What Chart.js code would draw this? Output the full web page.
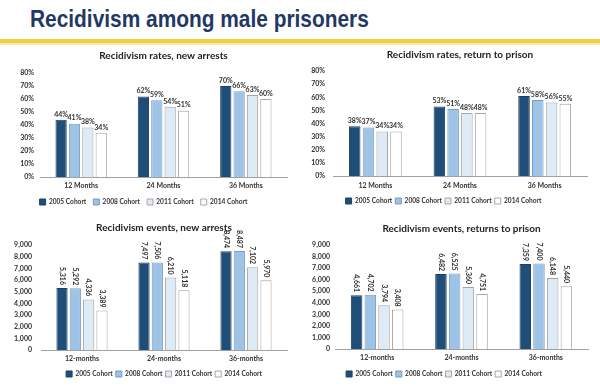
<!DOCTYPE html>
<html><head><meta charset="utf-8">
<script src="https://cdn.jsdelivr.net/npm/chart.js@4.4.1/dist/chart.umd.min.js"></script>
<style>
html,body{margin:0;padding:0;background:#fff}
body{width:600px;height:389px;position:relative;overflow:hidden}
#title{position:absolute;left:30px;top:5px;font:bold 24px "Liberation Sans",Arial,sans-serif;color:#1F3864;white-space:nowrap;transform:scaleX(0.87);transform-origin:0 0}
#rule{position:absolute;left:0;top:39px;width:600px;height:4px;background:#F4CE3A}
#rule2{position:absolute;left:0;top:43px;width:600px;height:2px;background:#FBEBB0}
.c{position:absolute}
</style></head><body>
<div id="title">Recidivism among male prisoners</div>
<div id="rule"></div><div id="rule2"></div>
<div class="c" id="w1"><canvas id="c1"></canvas></div>
<div class="c" id="w2"><canvas id="c2"></canvas></div>
<div class="c" id="w3"><canvas id="c3"></canvas></div>
<div class="c" id="w4"><canvas id="c4"></canvas></div>
<script>
// ---- data ----
const cohorts = ['2005 Cohort', '2008 Cohort', '2011 Cohort', '2014 Cohort'];
const monthLabels = ['12 Months', '24 Months', '36 Months'];
const monthLabelsLower = ['12-months', '24-months', '36-months'];

const ratesArrest2005 = [44, 62, 70];
const ratesArrest2008 = [41, 59, 66];
const ratesArrest2011 = [38, 54, 63];
const ratesArrest2014 = [34, 51, 60];

const ratesPrison2005 = [38, 53, 61];
const ratesPrison2008 = [37, 51, 58];
const ratesPrison2011 = [34, 48, 56];
const ratesPrison2014 = [34, 48, 55];

const eventsArrest2005 = [5316, 7497, 8474];
const eventsArrest2008 = [5292, 7506, 8487];
const eventsArrest2011 = [4336, 6210, 7102];
const eventsArrest2014 = [3389, 5118, 5970];

const eventsPrison2005 = [4661, 6482, 7359];
const eventsPrison2008 = [4702, 6525, 7400];
const eventsPrison2011 = [3794, 5360, 6148];
const eventsPrison2014 = [3408, 4751, 5440];

const rateAxisMax = 80, rateAxisStep = 10;
const eventAxisMax = 9000, eventAxisStep = 1000;

// ---- styles ----
const FONT = 'Lato, "Open Sans", sans-serif';
const SMALL = 7;
const LEG = 6.6;
const fills = ['#1F4E79', '#9DC3E6', '#DEEBF7', '#FFFFFF'];
const borders = ['#1B3F63', '#7A9CC0', '#A6A6A6', '#A6A6A6'];

const valueLabelPlugin = {
  id: 'valueLabels',
  afterDatasetsDraw(chart, args, opts) {
    const ctx = chart.ctx;
    ctx.save();
    ctx.fillStyle = '#333';
    ctx.font = 'bold ' + SMALL + 'px ' + FONT;
    chart.data.datasets.forEach((ds, di) => {
      const meta = chart.getDatasetMeta(di);
      meta.data.forEach((bar, i) => {
        const txt = opts.format(ds.data[i]);
        if (opts.rotate) {
          ctx.save();
          ctx.translate(bar.x, bar.y - 3);
          ctx.rotate(Math.PI / 2);
          ctx.textAlign = 'right';
          ctx.textBaseline = 'middle';
          ctx.fillText(txt, 0, 0);
          ctx.restore();
        } else {
          ctx.textAlign = 'center';
          ctx.textBaseline = 'bottom';
          ctx.fillText(txt, bar.x, bar.y - 2);
        }
      });
    });
    ctx.restore();
  }
};

function makeChart(id, wrapId, cfg) {
  const wrap = document.getElementById(wrapId);
  const half = LEG / 2;
  const top = cfg.titleY - 10;
  const legendTop = cfg.legendY - cfg.legendPad - half;
  const bottom = cfg.legendY + half + 10;
  wrap.style.left = cfg.left + 'px';
  wrap.style.top = top + 'px';
  wrap.style.width = '300px';
  wrap.style.height = (bottom - top) + 'px';
  const datasets = cfg.series.map((d, k) => ({
    label: cohorts[k], data: d,
    backgroundColor: fills[k], borderColor: borders[k], borderWidth: 1,
    categoryPercentage: 0.65, barPercentage: 0.84
  }));
  return new Chart(document.getElementById(id), {
    type: 'bar',
    data: { labels: cfg.labels, datasets },
    plugins: [valueLabelPlugin],
    options: {
      responsive: true, maintainAspectRatio: false, animation: false,
      layout: { padding: { left: 0, right: 300 - (cfg.plotRight - cfg.left), top: 0, bottom: 0 } },
      plugins: {
        title: {
          display: true, text: cfg.title, fullSize: false, color: '#222',
          font: { family: FONT, size: 10, weight: 'bold', lineHeight: 1.2 },
          padding: { top: 4, bottom: cfg.plotTop - (cfg.titleY + 6) }
        },
        legend: {
          position: 'bottom', fullSize: cfg.legendFull,
          labels: {
            boxWidth: 6, boxHeight: 6, padding: cfg.legendPad, color: '#333',
            font: { family: FONT, size: LEG, weight: 'bold' }
          }
        },
        tooltip: { enabled: false },
        valueLabels: { rotate: cfg.rotate, format: cfg.format }
      },
      scales: {
        x: {
          grid: { display: false, drawTicks: false },
          border: { display: true, color: '#A0A0A0', width: 1 },
          ticks: { color: '#333', padding: cfg.catY - 4.2 - cfg.plotBottom,
                   font: { family: FONT, size: SMALL, weight: 'bold' } },
          afterFit: s => { s.height = legendTop - cfg.plotBottom; }
        },
        y: {
          min: 0, max: cfg.max,
          grid: { display: false, drawTicks: false },
          border: { display: false },
          ticks: { stepSize: cfg.step, autoSkip: false, color: '#333', padding: cfg.yPad,
                   font: { family: FONT, size: SMALL, weight: 'bold' },
                   callback: cfg.tick },
          afterFit: s => { s.width = cfg.plotLeft - cfg.left; }
        }
      }
    }
  });
}

const pct = v => v + '%';
const num = v => v.toLocaleString('en-US');

makeChart('c1', 'w1', {
  left: 0, title: 'Recidivism rates, new arrests', labels: monthLabels,
  series: [ratesArrest2005, ratesArrest2008, ratesArrest2011, ratesArrest2014],
  max: rateAxisMax, step: rateAxisStep, tick: pct, format: pct, rotate: false,
  titleY: 56, plotTop: 73, plotBottom: 177, plotLeft: 40, plotRight: 287,
  catY: 186, legendY: 202, legendPad: 7, legendFull: true, yPad: 6
});
makeChart('c2', 'w2', {
  left: 300, title: 'Recidivism rates, return to prison', labels: monthLabels,
  series: [ratesPrison2005, ratesPrison2008, ratesPrison2011, ratesPrison2014],
  max: rateAxisMax, step: rateAxisStep, tick: pct, format: pct, rotate: false,
  titleY: 55, plotTop: 71, plotBottom: 176, plotLeft: 333, plotRight: 587,
  catY: 186, legendY: 201, legendPad: 3, legendFull: true, yPad: 8
});
makeChart('c3', 'w3', {
  left: 0, title: 'Recidivism events, new arrests', labels: monthLabelsLower,
  series: [eventsArrest2005, eventsArrest2008, eventsArrest2011, eventsArrest2014],
  max: eventAxisMax, step: eventAxisStep, tick: num, format: num, rotate: true,
  titleY: 228, plotTop: 245, plotBottom: 350, plotLeft: 41, plotRight: 287,
  catY: 359, legendY: 374, legendPad: 3, legendFull: false, yPad: 9
});
makeChart('c4', 'w4', {
  left: 300, title: 'Recidivism events, returns to prison', labels: monthLabelsLower,
  series: [eventsPrison2005, eventsPrison2008, eventsPrison2011, eventsPrison2014],
  max: eventAxisMax, step: eventAxisStep, tick: num, format: num, rotate: true,
  titleY: 229, plotTop: 245, plotBottom: 349, plotLeft: 335, plotRight: 588,
  catY: 358, legendY: 374, legendPad: 3, legendFull: true, yPad: 5
});
</script>
</body></html>
